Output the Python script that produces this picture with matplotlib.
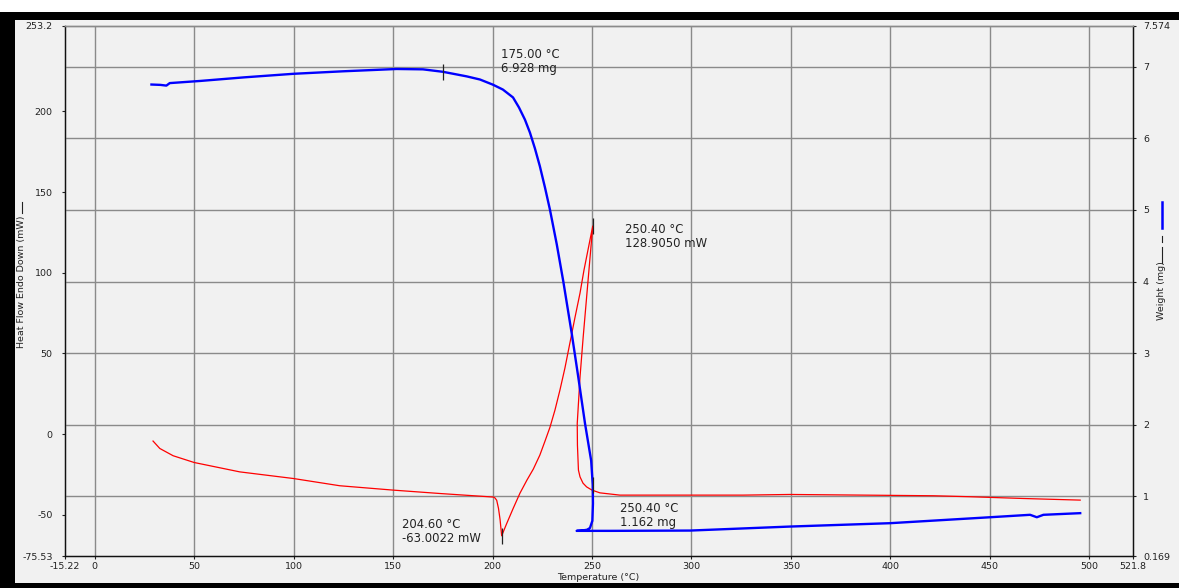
import matplotlib
matplotlib.use("Agg")
import matplotlib.pyplot as plt
from matplotlib.lines import Line2D
from matplotlib.patches import Rectangle

# ---- data -------------------------------------------------------------
# Heat flow (mW) vs temperature (°C)
hf_temp = [29.3, 32.7, 39.4, 50.0, 72.9, 99.8, 123.2, 150.0, 173.5, 200.4,
           201.2, 202.1, 203.0, 203.8, 204.6, 207.1, 210.4, 213.8,
           217.3, 220.5, 223.8, 226.4, 228.9, 231.4, 233.9, 236.4, 238.9,
           241.4, 244.0, 246.0, 247.5, 249.0, 250.4,
           248.2, 245.6, 244.0, 242.6, 242.7, 243.2, 244.0, 245.5, 247.3,
           250.0, 254.0, 264.0, 300.0, 326.0, 349.6, 386.5, 421.7, 440.0,
           467.0, 495.5]
hf_val = [-4.3, -8.9, -13.4, -17.6, -23.4, -27.5, -32.0, -34.7, -36.8, -39.0,
          -39.5, -41.0, -46.0, -53.0, -63.0022, -55.5, -46.0, -36.6,
          -28.5, -21.7, -13.0, -4.3, 4.3, 14.9, 27.3, 40.9, 56.4,
          71.9, 87.4, 101.7, 111.0, 120.3, 128.905,
          97.5, 60.3, 35.5, 6.6, -6.8, -22.3, -26.5, -30.4, -32.7,
          -34.7, -36.4, -37.8, -37.8, -37.8, -37.4, -37.8, -38.2, -38.8,
          -39.9, -40.9]

# Sample weight (mg) vs temperature (°C)
wt_temp = [28.5, 33.0, 36.0, 37.7, 53.0, 75.0, 100.0, 125.0, 151.8, 165.0,
           175.0, 187.0, 193.7, 200.2, 205.2, 210.3, 213.3, 216.3, 218.8,
           221.3, 223.8, 226.4, 228.9, 232.3, 235.6, 239.8, 243.1, 246.5,
           249.6, 250.4, 250.5, 250.2, 249.0, 247.5, 245.0, 242.3, 260.0,
           299.3, 349.6, 399.9, 450.2, 470.3, 473.7, 477.0, 495.5]
wt_val = [6.75, 6.745, 6.735, 6.77, 6.80, 6.85, 6.90, 6.935, 6.967, 6.962,
          6.928, 6.864, 6.82, 6.748, 6.68, 6.57, 6.43, 6.26, 6.08,
          5.86, 5.61, 5.31, 5.0, 4.52, 4.0, 3.28, 2.67, 2.02,
          1.50, 1.162, 0.90, 0.66, 0.56, 0.535, 0.525, 0.52, 0.52,
          0.524, 0.58, 0.627, 0.71, 0.744, 0.71, 0.744, 0.767]

# Annotated points
wt_ann_temp = [175.00, 250.40]
wt_ann_val = [6.928, 1.162]
hf_ann_temp = [204.60, 250.40]
hf_ann_val = [-63.0022, 128.9050]

# Axis ranges and ticks
x_lim = (-15.22, 521.8)
hf_lim = (-75.53, 253.2)
wt_lim = (0.169, 7.574)
x_ticks = [0, 50, 100, 150, 200, 250, 300, 350, 400, 450, 500]
hf_ticks = [-50, 0, 50, 100, 150, 200]
wt_ticks = [1, 2, 3, 4, 5, 6, 7]

# ---- figure -----------------------------------------------------------
W, H = 1179, 588
fig = plt.figure(figsize=(W / 100, H / 100), dpi=100, facecolor="#f1f1f1")

# window frame
fig.add_artist(Rectangle((0, 1 - 12 / H), 1, 12 / H, transform=fig.transFigure,
                         facecolor="white", edgecolor="none", zorder=-5))
fig.add_artist(Rectangle((0, 1 - 20 / H), 1, 8 / H, transform=fig.transFigure,
                         facecolor="black", edgecolor="none", zorder=-5))
fig.add_artist(Rectangle((0, 0), 15 / W, 1 - 12 / H, transform=fig.transFigure,
                         facecolor="black", edgecolor="none", zorder=-5))
fig.add_artist(Rectangle((0, 0), 1, 5 / H, transform=fig.transFigure,
                         facecolor="black", edgecolor="none", zorder=-5))

left, right, top, bottom = 64.5, 1132.5, 25.5, 556.0
ax = fig.add_axes([left / W, 1 - bottom / H, (right - left) / W, (bottom - top) / H])
ax.set_facecolor("#f1f1f1")
ax2 = ax.twinx()

tick_font = dict(fontsize=6.8, family="DejaVu Sans")
grid_col = "#8a8a8a"

ax.set_xlim(*x_lim)
ax.set_ylim(*hf_lim)
ax2.set_ylim(*wt_lim)

ax.set_xticks(x_ticks)
ax.set_xticks(list(x_lim), minor=True)
ax.set_xticklabels([str(v) for v in x_ticks], **tick_font)
ax.set_xticklabels([f"{v:g}" for v in x_lim], minor=True, **tick_font)
ax.set_yticks(hf_ticks)
ax.set_yticks(list(hf_lim), minor=True)
ax.set_yticklabels([str(v) for v in hf_ticks], **tick_font)
ax.set_yticklabels([f"{v:g}" for v in hf_lim], minor=True, **tick_font)
ax2.set_yticks(wt_ticks)
ax2.set_yticks(list(wt_lim), minor=True)
ax2.set_yticklabels([str(v) for v in wt_ticks], **tick_font)
ax2.set_yticklabels([f"{v:g}" for v in wt_lim], minor=True, **tick_font)

for a in (ax, ax2):
    a.tick_params(which="both", direction="out", length=2.5, width=0.8,
                  colors="#222222")
ax.tick_params(axis="x", which="both", pad=1.5)
ax.tick_params(axis="y", which="both", pad=6)
ax2.tick_params(axis="y", which="both", pad=5)

ax.grid(True, axis="x", which="major", color=grid_col, linewidth=1.0)
ax2.grid(True, axis="y", which="major", color=grid_col, linewidth=1.0)
ax2.set_axisbelow(True)

for a in (ax, ax2):
    for side in ("left", "bottom", "right"):
        a.spines[side].set_color("#111111")
        a.spines[side].set_linewidth(0.9)
    a.spines["top"].set_color(grid_col)
    a.spines["top"].set_linewidth(1.0)

# curves (both drawn in ax2 so they sit above every grid line)
ax2.plot(hf_temp, hf_val, color="#ff0000", linewidth=0.9,
         transform=ax.transData, zorder=3)
ax2.plot(wt_temp, wt_val, color="#0000ff", linewidth=1.7, zorder=4)

# cursor marks at the annotated points
ax2.plot(hf_ann_temp, hf_ann_val, linestyle="none", marker="|", markersize=11,
         markeredgewidth=0.9, color="#222222", transform=ax.transData, zorder=5)
ax2.plot(wt_ann_temp, wt_ann_val, linestyle="none", marker="|", markersize=11,
         markeredgewidth=0.9, color="#222222", zorder=5)

ann_font = dict(fontsize=8.4, family="DejaVu Sans", color="#222222",
                linespacing=1.05, va="center", ha="left")

wt_offsets = [(58, 10.5), (27, -30.5)]
for t, v, off in zip(wt_ann_temp, wt_ann_val, wt_offsets):
    ax2.annotate(f"{t:.2f} \u00b0C\n{v:.3f} mg", xy=(t, v), xytext=off,
                 textcoords="offset pixels", zorder=6, **ann_font)

hf_offsets = [(-100, 4.5), (32, -10.5)]
for t, v, off in zip(hf_ann_temp, hf_ann_val, hf_offsets):
    ax.annotate(f"{t:.2f} \u00b0C\n{v:.4f} mW", xy=(t, v), xytext=off,
                textcoords="offset pixels", zorder=6, **ann_font)

# axis titles with their trace keys
fig.text(598 / W, 1 - 578 / H, "Temperature (\u00b0C)", ha="center", va="center",
         fontsize=6.8, family="DejaVu Sans", color="#222222")
fig.text(22 / W, 1 - 282 / H, "Heat Flow Endo Down (mW)", rotation=90,
         ha="center", va="center", fontsize=6.8, family="DejaVu Sans",
         color="#222222")
fig.add_artist(Line2D([22 / W, 22 / W], [1 - 213 / H, 1 - 202 / H],
                      transform=fig.transFigure, color="#222222", linewidth=0.8))

fig.text(1162 / W, 1 - 291 / H, "Weight (mg)", rotation=90,
         ha="center", va="center", fontsize=6.8, family="DejaVu Sans",
         color="#222222")
fig.add_artist(Line2D([1162 / W, 1162 / W], [1 - 263 / H, 1 - 247 / H],
                      transform=fig.transFigure, color="#222222", linewidth=0.8))
fig.add_artist(Line2D([1162 / W, 1162 / W], [1 - 242 / H, 1 - 236 / H],
                      transform=fig.transFigure, color="#222222", linewidth=0.8))
fig.add_artist(Line2D([1162 / W, 1162 / W], [1 - 228 / H, 1 - 202 / H],
                      transform=fig.transFigure, color="#0000ff", linewidth=1.8))

fig.savefig("out.png", dpi=100, facecolor=fig.get_facecolor())
